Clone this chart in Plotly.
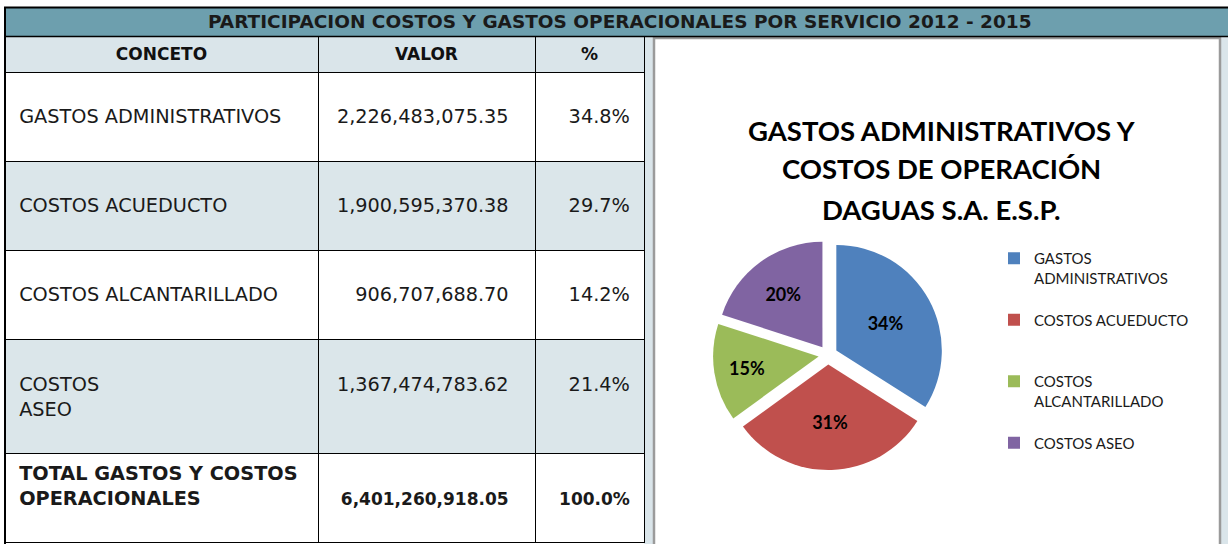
import plotly.graph_objects as go

# ---------------- data ----------------
main_title = "PARTICIPACION COSTOS Y GASTOS OPERACIONALES POR SERVICIO 2012 - 2015"
header = ["CONCETO", "VALOR", "%"]
conceptos = ["GASTOS ADMINISTRATIVOS", "COSTOS ACUEDUCTO", "COSTOS ALCANTARILLADO", "COSTOS<br>ASEO"]
valores = [2226483075.35, 1900595370.38, 906707688.70, 1367474783.62]
total_label = ["TOTAL GASTOS Y COSTOS", "OPERACIONALES"]

chart_title = ["GASTOS ADMINISTRATIVOS Y", "COSTOS DE OPERACIÓN", "DAGUAS S.A. E.S.P."]
pie_labels = ["GASTOS<br>ADMINISTRATIVOS", "COSTOS ACUEDUCTO", "COSTOS<br>ALCANTARILLADO", "COSTOS ASEO"]
pie_pct = [34, 31, 15, 20]
pie_colors = ["#4f81bd", "#c0504d", "#9bbb59", "#8064a2"]

# ---------------- layout helpers ----------------
W, H = 1228, 544
def px(x):
    return x / W
def py(y):
    return 1 - y / H

NB = "\u00a0"
TEAL = "#6d9fae"
TFONT = "DejaVu Sans"
CFONT = "Lato"
BODY = 19.3

def small(s):
    return f"<span style='font-size:17px'>{s}</span>"

# ---------------- table cells ----------------
total = sum(valores)
col1, col2, col3 = [], [], []
for name, v in zip(conceptos, valores):
    lines = name.split("<br>")
    col1.append("<br>".join([NB] + [NB + l for l in lines] + [NB]))
    col2.append("<br>".join([NB, f"{v:,.2f}" + NB * 3, NB]))
    col3.append("<br>".join([NB, f"{v / total * 100:.1f}%" + NB, NB]))
col1.append("<br>".join([f"{NB}<b>{l}</b>" for l in total_label] + [NB]))
col2.append(f"{NB}<br>" + small(f"<b>{total:,.2f}</b>") + NB * 3)
col3.append(f"{NB}<br>" + small(f"<b>{100:.1f}%</b>") + NB)

row_fill = ["white", "#dbe6ea", "white", "#dbe6ea", "white"]

fig = go.Figure()

fig.add_trace(go.Table(
    domain=dict(x=[px(5), px(644)], y=[0, py(36)]),
    columnwidth=[313, 217, 109],
    header=dict(
        values=[f"<b>{h}</b>" for h in header],
        fill_color="#dae5ea",
        line=dict(color="black", width=1),
        align="center",
        height=31,
        font=dict(family=TFONT, size=17, color="#111111"),
    ),
    cells=dict(
        values=[col1, col2, col3],
        fill_color=[row_fill, row_fill, row_fill],
        line=dict(color="black", width=1),
        align=["left", "right", "right"],
        height=40,
        font=dict(family=TFONT, size=BODY, color="#1a1a1a"),
    ),
))

fig.add_trace(go.Pie(
    labels=[l + "<br>" + NB if l.count("<br>") == 1 else l + "<br>" + NB + "<br>" + NB for l in pie_labels],
    values=pie_pct,
    sort=False,
    direction="clockwise",
    rotation=0,
    marker=dict(colors=pie_colors, line=dict(color="white", width=0)),
    pull=[0.09] * 4,
    texttemplate="<b>%{percent:.0%}</b>",
    textposition="inside",
    insidetextorientation="horizontal",
    textfont=dict(family=CFONT, size=18, color="black"),
    domain=dict(x=[px(712), px(944)], y=[py(470), py(240)]),
    hoverinfo="label+percent",
))

shapes = [
    # right-hand light background
    dict(type="rect", xref="paper", yref="paper", x0=px(644), x1=1, y0=0, y1=py(37),
         fillcolor="#dae5ea", line=dict(width=0), layer="below"),
    # chart frame
    dict(type="rect", xref="paper", yref="paper", x0=px(654), x1=px(1220), y0=py(548), y1=py(38),
         fillcolor="white", line=dict(color="#9a9a9a", width=2.5), layer="below"),
    # title bar
    dict(type="rect", xref="paper", yref="paper", x0=px(5), x1=1, y0=py(36), y1=py(8),
         fillcolor=TEAL, line=dict(width=0), layer="below"),
    dict(type="line", xref="paper", yref="paper", x0=px(4), x1=1, y0=py(7.5), y1=py(7.5),
         line=dict(color="black", width=2)),
    dict(type="line", xref="paper", yref="paper", x0=px(4), x1=1, y0=py(36.5), y1=py(36.5),
         line=dict(color="black", width=1.5)),
    dict(type="line", xref="paper", yref="paper", x0=px(5), x1=px(5), y0=0, y1=py(7),
         line=dict(color="black", width=2)),
]

annotations = [
    dict(text=f"<b>{main_title}</b>", x=px(620), y=py(22), xref="paper", yref="paper",
         showarrow=False, xanchor="center", yanchor="middle",
         font=dict(family=TFONT, size=18.5, color="#1a1a1a")),
]
for line, yy in zip(chart_title, [130, 168, 210]):
    annotations.append(dict(text=f"<b>{line}</b>", x=px(941), y=py(yy), xref="paper", yref="paper",
                            showarrow=False, xanchor="center", yanchor="middle",
                            font=dict(family=CFONT, size=27.5, color="black")))

fig.update_layout(
    width=W, height=H,
    margin=dict(l=0, r=0, t=0, b=0),
    paper_bgcolor="white",
    shapes=shapes,
    annotations=annotations,
    showlegend=True,
    legend=dict(x=px(994), y=py(242), xanchor="left", yanchor="top", valign="top",
                font=dict(family=CFONT, size=15, color="#1a1a1a"),
                bgcolor="rgba(0,0,0,0)", itemclick=False, itemdoubleclick=False),
)

fig.write_html("out.html", config={"displayModeBar": False},
               post_script="document.body.style.margin='0px';")
